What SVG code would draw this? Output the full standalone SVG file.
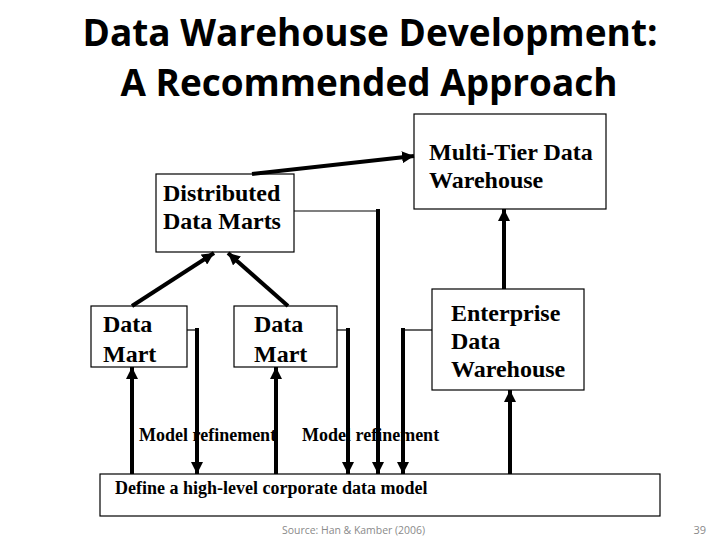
<svg xmlns="http://www.w3.org/2000/svg" width="720" height="540" viewBox="0 0 720 540">
<style>
.box{fill:#fff;stroke:#000;stroke-width:1.2}
.bt{font-family:"Liberation Serif","Times New Roman",serif;font-weight:bold;font-size:24px;fill:#000}
.lt{font-family:"Liberation Serif","Times New Roman",serif;font-weight:bold;font-size:18px;fill:#000}
.title{font-family:"Open Sans","Noto Sans",sans-serif;font-weight:bold;font-size:38px;fill:#000}
.thick{stroke:#000;stroke-width:4;fill:none}
.thin{stroke:#000;stroke-width:1.2;fill:none}
.foot{font-family:"Open Sans","Noto Sans",sans-serif;font-size:11px;fill:#8a8a8a}
</style>
<defs>
<marker id="ah" viewBox="0 0 10 10" refX="10" refY="5" markerWidth="3" markerHeight="3" orient="auto" markerUnits="strokeWidth">
<path d="M0,0 L10,5 L0,10 z" fill="#000"/>
</marker>
</defs>
<rect width="720" height="540" fill="#fff"/>
<g id="title">
<text class="title" x="370" y="46" text-anchor="middle" textLength="575" lengthAdjust="spacingAndGlyphs">Data Warehouse Development:</text>
<text class="title" x="369" y="96" text-anchor="middle" textLength="497" lengthAdjust="spacingAndGlyphs">A Recommended Approach</text>
</g>
<g id="multi-tier">
<rect class="box" x="414" y="114" width="192" height="95"/>
<text class="bt" x="429" y="160">Multi-Tier Data</text>
<text class="bt" x="429" y="188">Warehouse</text>
</g>
<g id="distributed">
<rect class="box" x="156" y="174" width="138" height="78"/>
<text class="bt" x="163" y="201">Distributed</text>
<text class="bt" x="163" y="229">Data Marts</text>
</g>
<g id="datamart1">
<rect class="box" x="91" y="306" width="96" height="61"/>
<text class="bt" x="103" y="332">Data</text>
<text class="bt" x="103" y="362">Mart</text>
</g>
<g id="datamart2">
<rect class="box" x="234" y="306" width="103" height="61"/>
<text class="bt" x="254" y="332">Data</text>
<text class="bt" x="254" y="362">Mart</text>
</g>
<g id="enterprise">
<rect class="box" x="432" y="289" width="152" height="101"/>
<text class="bt" x="451" y="321">Enterprise</text>
<text class="bt" x="451" y="349">Data</text>
<text class="bt" x="451" y="377">Warehouse</text>
</g>
<g id="corporate">
<rect class="box" x="100" y="474" width="560" height="42"/>
<text class="lt" x="115" y="494">Define a high-level corporate data model</text>
</g>
<g id="labels">
<text class="lt" x="139" y="441">Model refinement</text>
<text class="lt" x="302" y="441">Model refinement</text>
</g>
<g id="connectors">
<line class="thick" x1="252" y1="174" x2="414" y2="156" marker-end="url(#ah)"/>
<line class="thick" x1="132" y1="306" x2="214" y2="253" marker-end="url(#ah)"/>
<line class="thick" x1="288" y1="306" x2="228" y2="253" marker-end="url(#ah)"/>
<line class="thick" x1="504" y1="289" x2="504" y2="209" marker-end="url(#ah)"/>
<line class="thick" x1="132" y1="474" x2="132" y2="367" marker-end="url(#ah)"/>
<line class="thick" x1="276" y1="474" x2="276" y2="367" marker-end="url(#ah)"/>
<line class="thick" x1="510" y1="474" x2="510" y2="390" marker-end="url(#ah)"/>
<polyline class="thin" points="187,330 197,330"/>
<line class="thick" x1="197" y1="328" x2="197" y2="474" marker-end="url(#ah)"/>
<polyline class="thin" points="337,330 348,330"/>
<line class="thick" x1="348" y1="328" x2="348" y2="474" marker-end="url(#ah)"/>
<polyline class="thin" points="294,211 378,211"/>
<line class="thick" x1="378" y1="209" x2="378" y2="474" marker-end="url(#ah)"/>
<polyline class="thin" points="432,330 403,330"/>
<line class="thick" x1="403" y1="328" x2="403" y2="474" marker-end="url(#ah)"/>
</g>
<g id="footer">
<text class="foot" x="282" y="534" textLength="143" lengthAdjust="spacingAndGlyphs">Source: Han &amp; Kamber (2006)</text>
<text class="foot" x="706" y="534" text-anchor="end">39</text>
</g>
</svg>
